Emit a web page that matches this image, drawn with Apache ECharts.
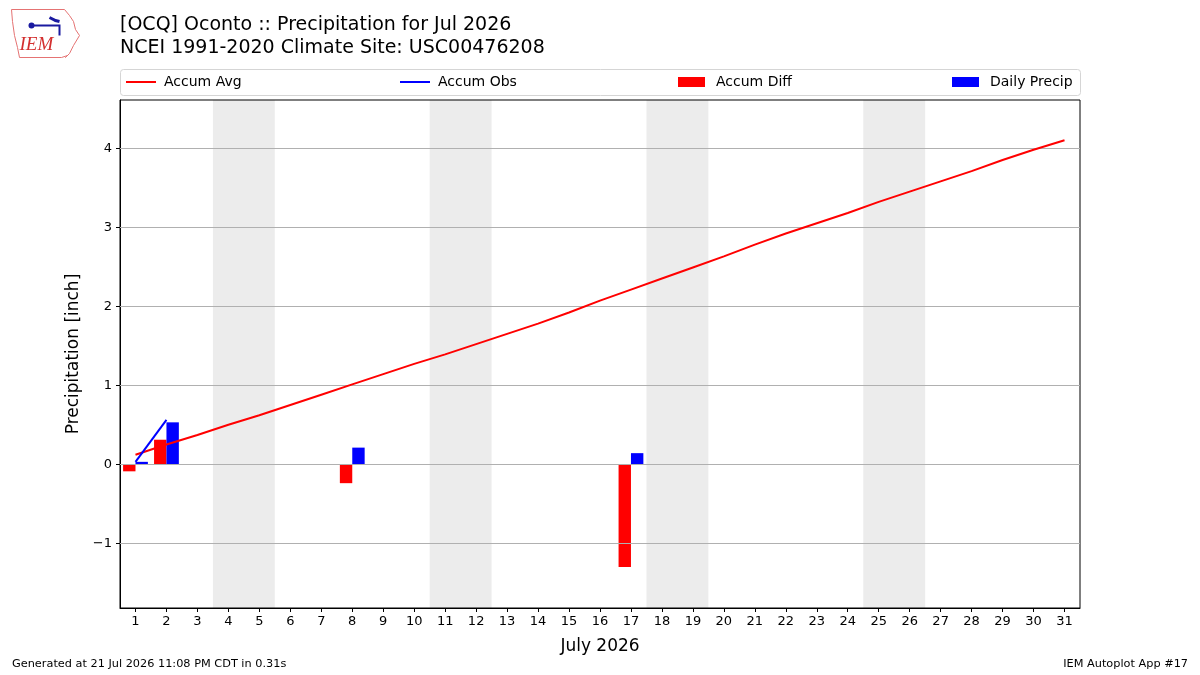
<!DOCTYPE html>
<html>
<head>
<meta charset="utf-8">
<title>Oconto Precipitation Jul 2026</title>
<script src="https://cdn.jsdelivr.net/npm/echarts@6/dist/echarts.min.js"></script>
<style>
  html, body { margin: 0; padding: 0; background: #fff; }
  #chart { width: 1200px; height: 675px; }
</style>
</head>
<body>
<div id="chart"></div>
<script>
// days of July 2026
const dayLabels = ['1', '2', '3', '4', '5', '6', '7', '8', '9', '10', '11', '12', '13', '14', '15', '16',
  '17', '18', '19', '20', '21', '22', '23', '24', '25', '26', '27', '28', '29', '30', '31']

// accumulated climatology (inch)
const accumAvg = [0.12, 0.25, 0.37, 0.50, 0.62, 0.75, 0.88, 1.01, 1.14, 1.27, 1.39, 1.52, 1.65, 1.78, 1.92, 2.07,
  2.21, 2.35, 2.49, 2.63, 2.78, 2.92, 3.05, 3.18, 3.32, 3.45, 3.58, 3.71, 3.85, 3.98, 4.10]

// observed accumulation, only on days with a report
const accumObs = [0.03, 0.56, null, null, null, null, null, 0.77, null, null, null, null, null, null, null, null,
  0.91, null, null, null, null, null, null, null, null, null, null, null, null, null, null]

// observed minus climatology
const accumDiff = [-0.09, 0.31, null, null, null, null, null, -0.24, null, null, null, null, null, null, null, null,
  -1.30, null, null, null, null, null, null, null, null, null, null, null, null, null, null]

// daily precipitation
const dailyPrecip = [0.03, 0.53, null, null, null, null, null, 0.21, null, null, null, null, null, null, null, null,
  0.14, null, null, null, null, null, null, null, null, null, null, null, null, null, null]

// weekends (saturday of each)
const weekendStarts = [4, 11, 18, 25]

const yTicks = [-1, 0, 1, 2, 3, 4]

const FONT = 'DejaVu Sans'

const chart = echarts.init(document.getElementById('chart'), null, { renderer: 'canvas' })

// legend items, matplotlib "expand" style
const legendItems = [
  { name: 'Accum Avg', left: 126, w: 30, h: 2, pad: 3 },
  { name: 'Accum Obs', left: 400, w: 30, h: 2, pad: 3 },
  { name: 'Accum Diff', left: 678, w: 27, h: 10, pad: 6 },
  { name: 'Daily Precip', left: 952, w: 27, h: 10, pad: 6 }
]

const option = {
  animation: false,
  backgroundColor: '#fff',
  textStyle: { fontFamily: FONT },
  title: {
    text: '[OCQ] Oconto :: Precipitation for Jul 2026\nNCEI 1991-2020 Climate Site: USC00476208',
    left: 120,
    top: 14,
    padding: 0,
    textStyle: { fontFamily: FONT, fontSize: 19, fontWeight: 'normal', color: '#000', lineHeight: 23 }
  },
  legend: legendItems.map(it => ({
    data: [it.name],
    left: it.left,
    top: 75,
    padding: 0,
    icon: 'rect',
    itemWidth: it.w,
    itemHeight: it.h,
    itemGap: 8,
    selectedMode: false,
    textStyle: { fontFamily: FONT, fontSize: 14, color: '#000', padding: [0, 0, 0, it.pad] }
  })),
  grid: { left: 120, right: 120, top: 100, bottom: 67, show: true, borderColor: '#000', borderWidth: 1, containLabel: false },
  xAxis: [
    {
      type: 'category',
      data: dayLabels,
      boundaryGap: true,
      name: 'July 2026',
      nameLocation: 'middle',
      nameGap: 30,
      nameTextStyle: { fontFamily: FONT, fontSize: 17, color: '#000' },
      axisLine: { show: true, onZero: false, lineStyle: { color: '#000', width: 1 } },
      axisTick: { show: true, alignWithLabel: true, length: 4, lineStyle: { color: '#000' } },
      axisLabel: { color: '#000', fontSize: 13, margin: 7, interval: 0 },
      splitLine: { show: false }
    },
    {
      type: 'value',
      min: 0.5,
      max: 31.5,
      show: false
    }
  ],
  yAxis: {
    type: 'value',
    min: -1.82,
    max: 4.61,
    name: 'Precipitation [inch]',
    nameLocation: 'middle',
    nameGap: 38,
    nameTextStyle: { fontFamily: FONT, fontSize: 17, color: '#000' },
    axisLine: { show: true, lineStyle: { color: '#000', width: 1 } },
    axisTick: { show: true, length: 4, customValues: yTicks, lineStyle: { color: '#000' } },
    axisLabel: {
      color: '#000', fontSize: 13, margin: 8, customValues: yTicks,
      formatter: v => (v < 0 ? '\u2212' + Math.abs(v) : String(v))
    },
    splitLine: { show: false }
  },
  graphic: [
    // legend frame
    {
      type: 'rect', left: 120, top: 69, z: 0,
      shape: { width: 960, height: 26, r: 3 },
      style: { fill: '#fff', stroke: '#d5d5d5', lineWidth: 1 }
    },
    // IEM logo (rough)
    {
      type: 'group', left: 9, top: 7,
      children: [
        {
          type: 'polyline',
          shape: { points: [[2, 2], [55, 2], [60, 8], [64, 14], [66, 22], [70, 28], [64, 38], [60, 46], [56, 50], [58, 48], [52, 50], [10, 50], [8, 40], [5, 28], [3, 14], [2, 2]] },
          style: { stroke: '#e57373', fill: 'none', lineWidth: 1 }
        },
        {
          type: 'polyline',
          shape: { points: [[20, 18], [50, 18], [50, 28]] },
          style: { stroke: '#1a1aa0', fill: 'none', lineWidth: 2 }
        },
        {
          type: 'circle', shape: { cx: 22, cy: 18, r: 3 }, style: { fill: '#1a1aa0' }
        },
        {
          type: 'polyline',
          shape: { points: [[40, 10], [46, 13], [50, 14]] },
          style: { stroke: '#1a1aa0', fill: 'none', lineWidth: 3 }
        },
        {
          type: 'text', x: 10, y: 28,
          style: { text: 'IEM', fill: '#d32f2f', font: 'italic 19px "Liberation Serif"' }
        }
      ]
    },
    // footer
    {
      type: 'text', left: 12, top: 659,
      style: { text: 'Generated at 21 Jul 2026 11:08 PM CDT in 0.31s', fill: '#000', font: '11.3px "DejaVu Sans"' }
    },
    {
      type: 'text', right: 12, top: 659,
      style: { text: 'IEM Autoplot App #17', fill: '#000', font: '11.3px "DejaVu Sans"' }
    }
  ],
  series: [
    {
      name: 'shade',
      type: 'line',
      xAxisIndex: 1,
      data: [],
      silent: true,
      z: 1,
      markArea: {
        silent: true,
        itemStyle: { color: 'rgba(0,0,0,0.075)' },
        data: weekendStarts.map(d => [{ xAxis: d - 0.5 }, { xAxis: d + 1.5 }])
      },
      markLine: {
        silent: true,
        symbol: 'none',
        label: { show: false },
        lineStyle: { color: '#b0b0b0', width: 1, type: 'solid' },
        data: yTicks.map(v => ({ yAxis: v }))
      }
    },
    {
      name: 'Accum Avg',
      type: 'line',
      data: accumAvg,
      showSymbol: false,
      z: 5,
      lineStyle: { color: '#ff0000', width: 2 },
      itemStyle: { color: '#ff0000' }
    },
    {
      name: 'Accum Obs',
      type: 'line',
      data: accumObs,
      showSymbol: false,
      connectNulls: false,
      z: 5,
      lineStyle: { color: '#0000ff', width: 2 },
      itemStyle: { color: '#0000ff' }
    },
    {
      name: 'Accum Diff',
      type: 'bar',
      data: accumDiff,
      barWidth: 12.4,
      barGap: 0,
      z: 4,
      itemStyle: { color: '#ff0000' }
    },
    {
      name: 'Daily Precip',
      type: 'bar',
      data: dailyPrecip,
      barWidth: 12.4,
      barGap: 0,
      z: 4,
      itemStyle: { color: '#0000ff' }
    }
  ]
}

chart.setOption(option)
</script>
</body>
</html>
